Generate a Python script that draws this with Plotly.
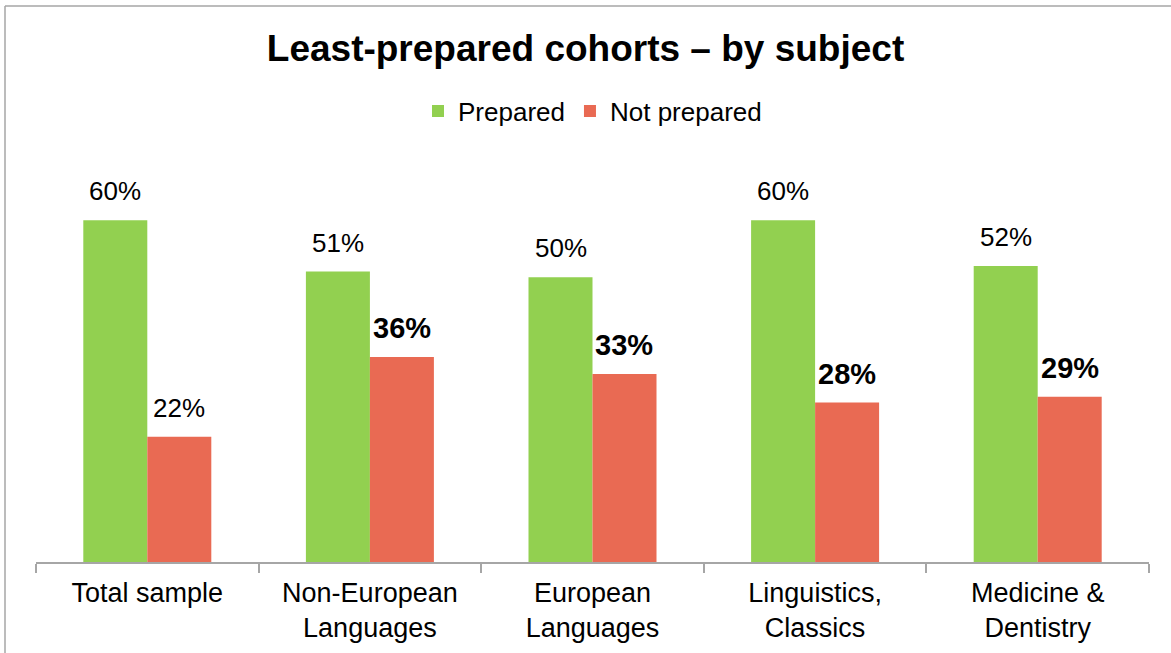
import plotly.graph_objects as go

# Survey results by subject cohort
categories = ["Total sample", "Non-European<br>Languages", "European<br>Languages",
              "Linguistics,<br>Classics", "Medicine &<br>Dentistry"]
prepared = [60, 51, 50, 60, 52]
not_prepared = [22, 36, 33, 28, 29]
not_prepared_bold = [False, True, True, True, True]

GREEN = "#92D050"
RED = "#E96A53"
FONT = "Liberation Sans, Arial, sans-serif"

W, H = 1171, 653
L, R, T, B = 36, 22, 152, 91
Y_MAX = 72

fig = go.Figure()
fig.add_trace(go.Bar(name="Prepared", x=categories, y=prepared,
                     marker=dict(color=GREEN, line_width=0)))
fig.add_trace(go.Bar(name="Not prepared", x=categories, y=not_prepared,
                     marker=dict(color=RED, line_width=0)))

plot_w = W - L - R
group_frac = 0.575
bar_px = group_frac * plot_w / len(categories) / 2

annotations = []
for cat, v in zip(categories, prepared):
    annotations.append(dict(x=cat, y=v, xref="x", yref="y", text=f"{v}%",
                            showarrow=False, xshift=-bar_px / 2, yshift=12,
                            yanchor="bottom",
                            font=dict(family=FONT, size=26, color="#000")))
for cat, v, b in zip(categories, not_prepared, not_prepared_bold):
    annotations.append(dict(x=cat, y=v, xref="x", yref="y",
                            text=f"<b>{v}%</b>" if b else f"{v}%",
                            showarrow=False, xshift=bar_px / 2, yshift=12 if not b else 11,
                            yanchor="bottom",
                            font=dict(family=FONT, size=29 if b else 26, color="#000")))

# Outer frame (top and left edges)
ph = H - T - B
px_to_x = lambda px: (px - L) / plot_w
px_to_y = lambda py: (H - B - py) / ph
shapes = [
    dict(type="line", xref="paper", yref="paper",
         x0=px_to_x(5), x1=px_to_x(1175), y0=px_to_y(6), y1=px_to_y(6),
         line=dict(color="#A6A6A6", width=1.5)),
    dict(type="line", xref="paper", yref="paper",
         x0=px_to_x(5), x1=px_to_x(5), y0=px_to_y(6), y1=px_to_y(660),
         line=dict(color="#A6A6A6", width=1.5)),
]

fig.update_layout(
    width=W, height=H,
    margin=dict(l=L, r=R, t=T, b=B, autoexpand=False),
    paper_bgcolor="white", plot_bgcolor="white",
    barmode="group", bargap=1 - group_frac, bargroupgap=0,
    title=dict(text="<b>Least-prepared cohorts – by subject</b>",
               x=0.5, xanchor="center", y=1 - 48 / H, yanchor="middle",
               font=dict(family=FONT, size=37, color="#000")),
    legend=dict(orientation="h", x=0.5, xanchor="center", y=1 - 111 / H,
                yanchor="middle", yref="container",
                font=dict(family=FONT, size=26, color="#000"),
                itemwidth=30, traceorder="normal"),
    font=dict(family=FONT, color="#000"),
    annotations=annotations,
    shapes=shapes,
    showlegend=True,
)
fig.update_xaxes(showline=True, linecolor="#A6A6A6", linewidth=1.5,
                 ticks="outside", tickson="boundaries", ticklen=9,
                 tickcolor="#A6A6A6", tickwidth=1.5,
                 ticklabelstandoff=6, automargin=False,
                 tickfont=dict(family=FONT, size=27, color="#000"),
                 showgrid=False)
fig.update_yaxes(range=[0, Y_MAX], visible=False, showgrid=False, automargin=False)

fig.write_html("out.html")
